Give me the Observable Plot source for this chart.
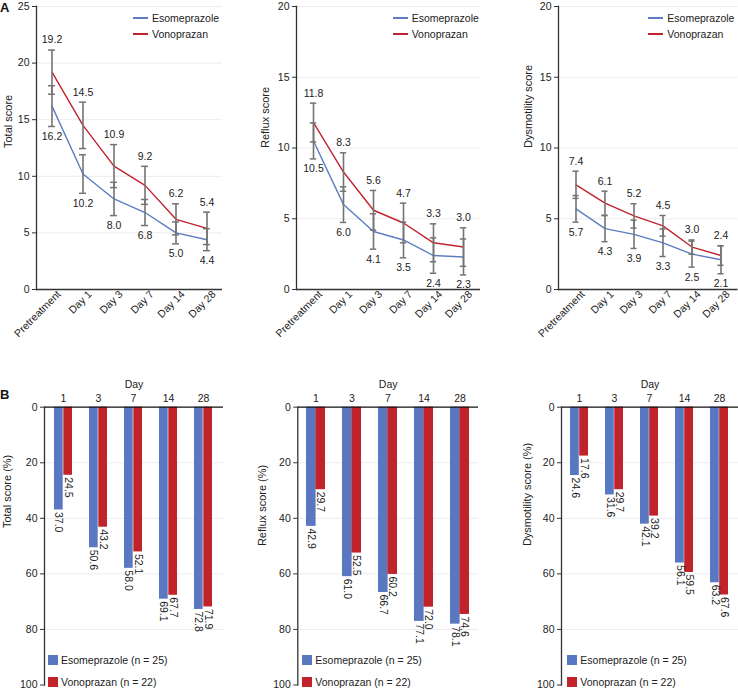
<!DOCTYPE html>
<html><head><meta charset="utf-8">
<script src="https://cdn.jsdelivr.net/npm/d3@7"></script>
<script src="https://cdn.jsdelivr.net/npm/@observablehq/plot@0.6"></script>
<style>
body{margin:0;background:#fff;font-family:"Liberation Sans",Arial,sans-serif;}
#root{position:relative;width:738px;height:690px;overflow:hidden;background:#fff;}
.panel{position:absolute;}
.panel svg{overflow:visible;display:block;}
.letter{position:absolute;font-size:13px;font-weight:bold;color:#111;line-height:13px;}
.leg{position:absolute;font-size:10.5px;color:#222;line-height:12px;white-space:nowrap;}
.sw{position:absolute;}
</style></head><body><div id="root"></div>
<script>
// ---------- data ----------
const timepoints = ["Pretreatment", "Day 1", "Day 3", "Day 7", "Day 14", "Day 28"];
const seriesNames = ["Esomeprazole", "Vonoprazan"];

const totalEso = [16.2, 10.2, 8.0, 6.8, 5.0, 4.4];
const totalVono = [19.2, 14.5, 10.9, 9.2, 6.2, 5.4];
const totalEsoSE = [1.8, 1.7, 1.47, 1.15, 0.97, 0.97];
const totalVonoSE = [1.95, 2.05, 1.9, 1.68, 1.37, 1.43];

const refluxEso = [10.5, 6.0, 4.1, 3.5, 2.4, 2.3];
const refluxVono = [11.8, 8.3, 5.6, 4.7, 3.3, 3.0];
const refluxEsoSE = [1.27, 1.26, 1.25, 1.26, 1.25, 1.27];
const refluxVonoSE = [1.37, 1.36, 1.4, 1.4, 1.34, 1.36];

const dysEso = [5.7, 4.3, 3.9, 3.3, 2.5, 2.1];
const dysVono = [7.4, 6.1, 5.2, 4.5, 3.0, 2.4];
const dysEsoSE = [0.94, 0.92, 1.0, 0.97, 0.92, 0.99];
const dysVonoSE = [0.96, 0.85, 0.86, 0.73, 0.5, 0.69];

const days = ["1", "3", "7", "14", "28"];
const totalPctEso = [37.0, 50.6, 58.0, 69.1, 72.8];
const totalPctVono = [24.5, 43.2, 52.1, 67.7, 71.9];
const refluxPctEso = [42.9, 61.0, 66.7, 77.1, 78.1];
const refluxPctVono = [29.7, 52.5, 60.2, 72.0, 74.6];
const dysPctEso = [24.6, 31.6, 42.1, 56.1, 63.2];
const dysPctVono = [17.6, 29.7, 39.2, 59.5, 67.6];

const barLegend = ["Esomeprazole (n = 25)", "Vonoprazan (n = 22)"];

// ---------- style ----------
const FONT = '"Liberation Sans", Arial, sans-serif';
const BLUE_LINE = "#5b7dc2", RED_LINE = "#c0242c";
const BLUE_BAR = "#5a78c2", RED_BAR = "#c1232b";
const ERR = "#747474", AXIS = "#333", GRID = "#ececec";
const root = document.getElementById("root");

function place(el, left, top) {
  const d = document.createElement("div");
  d.className = "panel";
  d.style.left = left + "px"; d.style.top = top + "px";
  d.appendChild(el); root.appendChild(d);
}

function linePanel(o) {
  const {left, width, frameL, frameR, yMax, label, eso, vono, esoSE, vonoSE, labelDx} = o;
  const marginLeft = frameL - left, marginRight = left + width - frameR;
  const step = (frameR - frameL) / timepoints.length;
  const capInset = (step - 7) / 2;
  const rows = [];
  timepoints.forEach((t, i) => {
    rows.push({t, series: seriesNames[0], v: eso[i], se: esoSE[i]});
    rows.push({t, series: seriesNames[1], v: vono[i], se: vonoSE[i]});
  });
  const caps = rows.flatMap(d => [{t: d.t, y: d.v - d.se}, {t: d.t, y: d.v + d.se}]);
  const ticks = d3.range(0, yMax + 1, 5);
  const svg = Plot.plot({
    width, height: 330, marginLeft, marginRight, marginTop: 6, marginBottom: 41,
    style: {fontFamily: FONT, fontSize: "10.5px", color: "#222", background: "transparent", overflow: "visible"},
    x: {type: "band", domain: timepoints, padding: 0},
    y: {domain: [0, yMax]},
    color: {domain: seriesNames, range: [BLUE_LINE, RED_LINE]},
    marks: [
      Plot.gridY(ticks.slice(1), {stroke: GRID, strokeOpacity: 1}),
      Plot.axisY(ticks, {tickSize: 4, tickPadding: 3, label: null, stroke: AXIS}),
      Plot.axisX({tickRotate: -45, tickSize: 0, tickPadding: 5, dx: 7, dy: -2, label: null}),
      Plot.line(rows, {x: "t", y: "v", stroke: "series", strokeWidth: 1.4}),
      Plot.ruleX(rows, {x: "t", y1: d => d.v - d.se, y2: d => d.v + d.se, stroke: ERR, strokeWidth: 1.6}),
      Plot.tickY(caps, {x: "t", y: "y", stroke: ERR, strokeWidth: 1.5, insetLeft: capInset, insetRight: capInset}),
      Plot.text(rows.filter(d => d.series === seriesNames[1]), {x: "t", y: d => d.v + d.se, text: d => d.v.toFixed(1), dy: -10, fill: "#222"}),
      Plot.text(rows.filter(d => d.series === seriesNames[0]), {x: "t", y: d => d.v - d.se, text: d => d.v.toFixed(1), dy: 10, fill: "#222"}),
      Plot.ruleY([0], {stroke: AXIS, strokeWidth: 1.3}),
      Plot.frame({anchor: "left", stroke: AXIS, strokeWidth: 1.3}),
      Plot.text([label], {frameAnchor: "left", rotate: -90, dx: labelDx, fontSize: 11, fill: "#222"})
    ]
  });
  place(svg, left, 0);
  // legend
  const lx = o.legendX;
  seriesNames.forEach((s, i) => {
    const y = 18 + i * 16;
    const ln = document.createElement("div");
    ln.className = "sw";
    ln.style.cssText = `left:${lx}px;top:${y - 1}px;width:15px;height:2px;background:${i ? RED_LINE : BLUE_LINE};`;
    root.appendChild(ln);
    const t = document.createElement("div");
    t.className = "leg"; t.textContent = s;
    t.style.left = (lx + 19) + "px"; t.style.top = (y - 6.5) + "px";
    root.appendChild(t);
  });
}

function barPanel(o) {
  const {left, width, frameL, frameR, label, eso, vono, labelDx, labelDy} = o;
  const top = 360, height = 330;
  const marginTop = 406.7 - top, marginBottom = 5.5;
  const marginLeft = frameL - left, marginRight = left + width - frameR;
  const pi = 0.48, po = 0.24, n = days.length;
  const step = (frameR - frameL) / (n - pi + 2 * po);
  const half = step * (1 - pi) / 2;
  const esoRows = days.map((d, i) => ({d, v: eso[i]}));
  const vonoRows = days.map((d, i) => ({d, v: vono[i]}));
  const svg = Plot.plot({
    width, height, marginTop, marginBottom, marginLeft, marginRight,
    style: {fontFamily: FONT, fontSize: "10.5px", color: "#222", background: "transparent", overflow: "visible"},
    x: {type: "band", domain: days, paddingInner: pi, paddingOuter: po},
    y: {domain: [0, 100], reverse: true},
    marks: [
      Plot.gridY([20, 40, 60, 80], {stroke: GRID, strokeOpacity: 1}),
      Plot.axisY([0, 20, 40, 60, 80, 100], {tickSize: 4, tickPadding: 3, label: null, stroke: AXIS}),
      Plot.axisX({anchor: "top", tickSize: 0, tickPadding: 5, label: null}),
      Plot.barY(esoRows, {x: "d", y: "v", fill: BLUE_BAR, insetRight: half}),
      Plot.barY(vonoRows, {x: "d", y: "v", fill: RED_BAR, insetLeft: half}),
      Plot.text(esoRows, {x: "d", y: "v", text: d => d.v.toFixed(1), rotate: 90, textAnchor: "start", dx: -half / 2, dy: 2, fill: "#222"}),
      Plot.text(vonoRows, {x: "d", y: "v", text: d => d.v.toFixed(1), rotate: 90, textAnchor: "start", dx: half / 2, dy: 2, fill: "#222"}),
      Plot.ruleY([0], {stroke: "#111", strokeWidth: 1.3}),
      Plot.frame({anchor: "left", stroke: AXIS, strokeWidth: 1.3}),
      Plot.text(["Day"], {frameAnchor: "top", dy: -27, fontSize: 10.5, fill: "#222"}),
      Plot.text([label], {frameAnchor: "left", rotate: -90, dx: labelDx, dy: labelDy || 0, fontSize: 11, fill: "#222"})
    ]
  });
  place(svg, left, top);
  const sx = o.legendX;
  barLegend.forEach((s, i) => {
    const y = 655 + i * 22;
    const sq = document.createElement("div");
    sq.className = "sw";
    sq.style.cssText = `left:${sx}px;top:${y}px;width:10px;height:10px;background:${i ? RED_BAR : BLUE_BAR};`;
    root.appendChild(sq);
    const t = document.createElement("div");
    t.className = "leg"; t.textContent = s;
    t.style.left = (sx + 13) + "px"; t.style.top = (y - 1) + "px";
    root.appendChild(t);
  });
}

linePanel({left: 0, width: 240, frameL: 36, frameR: 222, yMax: 25, label: "Total score",
  eso: totalEso, vono: totalVono, esoSE: totalEsoSE, vonoSE: totalVonoSE, labelDx: -28, legendX: 133});
linePanel({left: 245, width: 240, frameL: 296, frameR: 480, yMax: 20, label: "Reflux score",
  eso: refluxEso, vono: refluxVono, esoSE: refluxEsoSE, vonoSE: refluxVonoSE, labelDx: -31, legendX: 392.7});
linePanel({left: 490, width: 248, frameL: 558, frameR: 737.5, yMax: 20, label: "Dysmotility score",
  eso: dysEso, vono: dysVono, esoSE: dysEsoSE, vonoSE: dysVonoSE, labelDx: -30, legendX: 648.3});

barPanel({left: 0, width: 240, frameL: 44, frameR: 223, label: "Total score (%)",
  eso: totalPctEso, vono: totalPctVono, labelDx: -37, labelDy: -18, legendX: 48});
barPanel({left: 245, width: 240, frameL: 297.3, frameR: 478, label: "Reflux score (%)",
  eso: refluxPctEso, vono: refluxPctVono, labelDx: -35, legendX: 302.3});
barPanel({left: 490, width: 248, frameL: 561, frameR: 738, label: "Dysmotility score (%)",
  eso: dysPctEso, vono: dysPctVono, labelDx: -34, legendX: 567.3});

// panel letters
[["A", 0, 1], ["B", 0, 388]].forEach(([t, x, y]) => {
  const d = document.createElement("div");
  d.className = "letter"; d.textContent = t;
  d.style.left = x + "px"; d.style.top = y + "px";
  root.appendChild(d);
});
</script></body></html>
